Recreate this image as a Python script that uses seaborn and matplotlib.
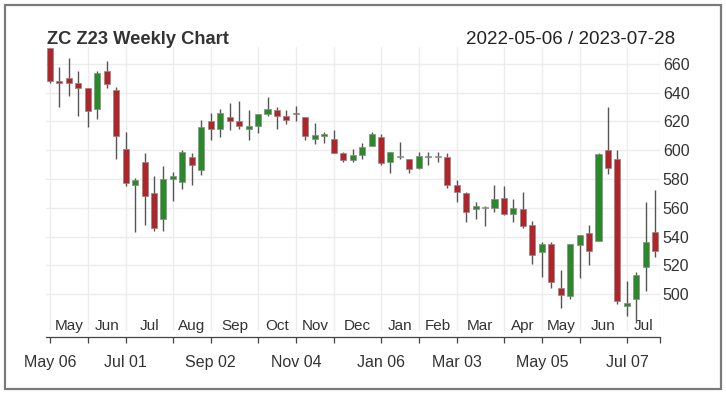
import numpy as np
import pandas as pd
import seaborn as sns
import matplotlib.pyplot as plt
from matplotlib.patches import Rectangle
from matplotlib.transforms import blended_transform_factory

# weekly OHLC for ZC Z23
opens = [671, 648, 650, 647, 643, 629, 655, 642, 601, 576, 592, 570, 552,
         580, 578, 595, 586, 620, 615, 623, 620, 615, 617, 625, 628, 624,
         626, 623, 608, 610, 608, 598, 593, 597, 603, 609, 592, 595.5, 594,
         588, 595, 595.5, 595, 576, 570, 559, 560, 560, 567, 556, 559, 548,
         529.5, 535, 504.5, 498.5, 534, 542.5, 537, 600, 594, 492, 496.5,
         519, 543]
highs = [671, 658, 664, 655, 643, 655, 662, 644, 613, 581, 598, 582, 589,
         585, 600, 598, 621, 626, 629, 633, 634, 628, 625, 637, 630, 628,
         631, 623, 619, 613, 614, 599, 601, 605, 613, 611, 599, 606, 594,
         599, 599, 599, 598, 579, 571, 564, 561, 576, 575, 566, 571, 551,
         536.5, 536.5, 517, 535, 541, 548, 598, 630, 600.5, 509, 515, 564,
         572.5]
lows = [647, 630, 638, 624, 616, 622, 643, 594, 575, 543, 548, 544, 544,
        565, 573, 576, 583, 607, 609, 614, 615, 607, 612, 624, 615, 618,
        620, 607, 604, 605, 598, 592, 592, 594, 603, 590, 584, 594, 584,
        587, 590, 592, 574, 564, 550, 552, 547, 557, 555, 550, 546, 521,
        512, 504, 490, 496.5, 511, 520, 537, 583.5, 493, 485, 480, 502,
        525.5]
closes = [648, 647, 647, 643, 627, 654, 646, 610, 577, 579, 568, 546, 580,
          582, 599, 590, 616, 615, 626, 620, 617, 617, 625, 629, 624, 621,
          625.5, 610, 610.5, 611, 598, 593, 597, 602, 611, 591, 599, 595.5,
          587, 596, 596, 595.5, 576, 571, 557, 561, 560, 566, 556, 560, 547,
          527, 535, 508.5, 499.5, 534.5, 541, 530, 597.5, 588, 495, 494, 513,
          536, 530]
dates = pd.date_range("2022-05-06", periods=len(opens), freq="W-FRI")
y_ticks = [500, 520, 540, 560, 580, 600, 620, 640, 660]

df = pd.DataFrame({"date": dates, "open": opens, "high": highs,
                   "low": lows, "close": closes})
df["idx"] = np.arange(len(df))

sns.set_style("white")
plt.rcParams["font.family"] = ["Liberation Sans", "DejaVu Sans"]
txt = "#333333"

W, H = 726, 394
fig = plt.figure(figsize=(W / 100, H / 100), dpi=100)
ax = fig.add_axes([46 / W, (H - 331) / H, 614 / W, 284 / H])

up_col, dn_col, doji_col = "#2a8a2a", "#b0242a", "#9a9a9a"
colors = []
for o, c in zip(df["open"], df["close"]):
    if c > o:
        colors.append(up_col)
    elif c < o:
        colors.append(dn_col)
    else:
        colors.append(doji_col)

ax.vlines(df["idx"], df["low"], df["high"], color="#555555", lw=1.0, zorder=2)
body_lo = np.minimum(df["open"], df["close"])
body_h = np.maximum(np.abs(df["close"] - df["open"]), 0.4)
ax.bar(df["idx"], body_h, bottom=body_lo, width=0.64, color=colors,
       edgecolor="#8a8a8a", linewidth=0.5, zorder=3)

# month boundaries
month_starts = [0] + [i for i in range(1, len(df))
                      if dates[i].month != dates[i - 1].month]
end = len(df) - 0.5
bounds = month_starts + [end]

ax.set_xlim(-0.42, end)
ax.set_ylim(474.3, 671.8)
for b in bounds:
    ax.axvline(b, color="#ececec", lw=1.0, zorder=0)
for yv in y_ticks:
    ax.axhline(yv, color="#ececec", lw=1.0, zorder=0)

trans = blended_transform_factory(ax.transData, ax.transAxes)
for a, b in zip(bounds[:-1], bounds[1:]):
    ax.text((a + b) / 2, 0.018, dates[a].strftime("%b"), transform=trans,
            ha="center", va="center", fontsize=11, color=txt)

for s in ["top", "left", "right"]:
    ax.spines[s].set_visible(False)
ax.spines["bottom"].set_position(("outward", 4.3))
ax.spines["bottom"].set_color("#444444")
ax.spines["bottom"].set_linewidth(0.9)

labels = []
for k, b in enumerate(bounds):
    labels.append(dates[b].strftime("%b %d") if k % 2 == 0 and b in month_starts else "")
ax.set_xticks(bounds)
ax.set_xticklabels(labels, fontsize=11.5, color=txt)
ax.tick_params(axis="x", direction="out", length=4.3, width=0.9,
               color="#444444", pad=9.0, bottom=True)

ax.yaxis.tick_right()
ax.set_yticks(y_ticks)
ax.set_yticklabels([str(v) for v in y_ticks], fontsize=11.5, color=txt)
ax.tick_params(axis="y", length=0, pad=2)
ax.grid(False)

fig.text(47 / W, (H - 40) / H, "ZC Z23 Weekly Chart", fontsize=13.2,
         fontweight="bold", color=txt, ha="left", va="center")
fig.text(675 / W, (H - 40) / H, "2022-05-06 / 2023-07-28", fontsize=13.5,
         color="#222222", ha="right", va="center")

fig.patches.append(Rectangle((5 / W, 5 / H), 716 / W, 384 / H,
                             transform=fig.transFigure, fill=False,
                             edgecolor="#7a7a7a", lw=1.6))

fig.savefig("out.png", dpi=100)
